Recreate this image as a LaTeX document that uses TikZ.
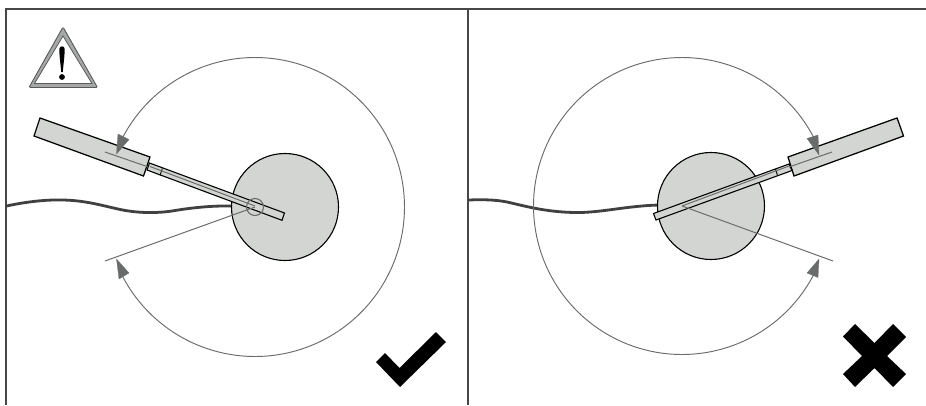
\documentclass[tikz,border=0pt]{standalone}
\begin{document}
\begin{tikzpicture}[x=1pt,y=-1pt,
  frameline/.style={draw=black!72,line width=1.4pt},
  part/.style={draw=black,line width=1.25pt,fill=partgray,line join=miter},
  thinpart/.style={draw=black,line width=1.1pt,fill=partgray},
  guide/.style={draw=guidegray,line width=1pt},
  sweep/.style={draw=guidegray,line width=0.95pt},
  cable/.style={draw=black!75,line width=2.8pt,line cap=round},
  head/.style={fill=guidegray,draw=guidegray,line width=0.3pt},
  verdict/.style={fill=black,draw=none}]
\definecolor{partgray}{HTML}{D3D5D2}
\definecolor{guidegray}{HTML}{6A6C6C}
\definecolor{warngray}{HTML}{A6A8A8}
\useasboundingbox (0,0) rectangle (926,405);
% frame
\draw[frameline] (6,405) -- (6,9) -- (926,9);
\draw[frameline] (468,9) -- (468,405);
% warning triangle
\draw[draw=black!65,fill=warngray,line width=0.9pt,line join=round,rounded corners=1.2pt] (63,27) -- (97.5,87.5) -- (29,87.5) -- cycle;
\draw[draw=black!65,fill=white,line width=0.8pt] (63,36) -- (92,83.5) -- (34.5,83.5) -- cycle;
\fill[black] (59.3,49) .. controls (59.3,45.5) and (64.7,45.5) .. (64.7,49) .. controls (64.7,56) and (63.3,65) .. (62.8,72) -- (61.2,72) .. controls (60.7,65) and (59.3,56) .. (59.3,49) -- cycle;
\fill[black] (62,77) circle (2.9);
% LEFT panel
\draw[cable] (6.5,206) .. controls (25,202) and (45,199.5) .. (63,200) .. controls (85,200.5) and (100,205) .. (118,209) .. controls (135,213) and (155,213.5) .. (172,211) .. controls (190,208) and (210,205.5) .. (234,206);
\draw[part,line width=1.1pt] (285,207) circle (53.5);
\draw[part] (40,118) -- (150,157) -- (143.5,176) -- (34,136) -- cycle;
\draw[thinpart] (149.5,163) -- (284.5,213) -- (282,220.3) -- (147,170) -- cycle;
\draw[draw=black,line width=0.9pt] (162.3,168.5) -- (160,175.5);
\draw[guide] (150,166.5) -- (255,206);
\draw[guide] (105,152) -- (147,166.5);
\draw[guide] (255,207) -- (105,261);
\draw[draw=guidegray,line width=1.1pt] (255,207) circle (8.5);
\draw[sweep] plot[smooth,domain=204:516,samples=120] ({255+149.5*cos(\x)},{207+149.5*sin(\x)});
\fill[head] (116.5,154) -- (118,134) -- (129,139.5) -- cycle;
\fill[head] (116.5,259) -- (119,279) -- (129,273) -- cycle;
% check mark
\fill[verdict] (436,332) -- (446,342) -- (400,387) -- (376,362) -- (385,353) -- (399.5,368) -- cycle;
% RIGHT panel
\draw[cable] (469,200) .. controls (480,199.5) and (495,199.5) .. (507,202) .. controls (525,206) and (545,212) .. (575,212.5) .. controls (600,213) and (625,206) .. (659,205);
\draw[part,line width=1.1pt] (711,206) circle (53.5);
\draw[part] (897,118) .. controls (899,123) and (901,129) .. (903.5,136) -- (794,176) -- (788,157) -- cycle;
\draw[thinpart] (789,164) -- (653.5,213.5) -- (656,220) -- (792,170.5) -- cycle;
\draw[draw=black,line width=0.9pt] (775.5,169) -- (777.5,175.5);
\draw[guide] (789,166) -- (682,206);
\draw[guide] (832,152) -- (789,167);
\draw[guide] (682,206) -- (833,261);
\draw[sweep] plot[smooth,domain=-24:-336,samples=120] ({682+148.5*cos(\x)},{206+148.5*sin(\x)});
\fill[head] (819,155) -- (807,138.5) -- (818,135) -- cycle;
\fill[head] (819,259) -- (807,273) -- (818,277.5) -- cycle;
% cross mark
\fill[verdict] (855,324) -- (874.5,343) -- (893,324) -- (906,337) -- (887,356) -- (906,374) -- (893,387) -- (874.5,368) -- (855,387) -- (843,374) -- (862,356) -- (843,336.5) -- cycle;
\end{tikzpicture}
\end{document}
